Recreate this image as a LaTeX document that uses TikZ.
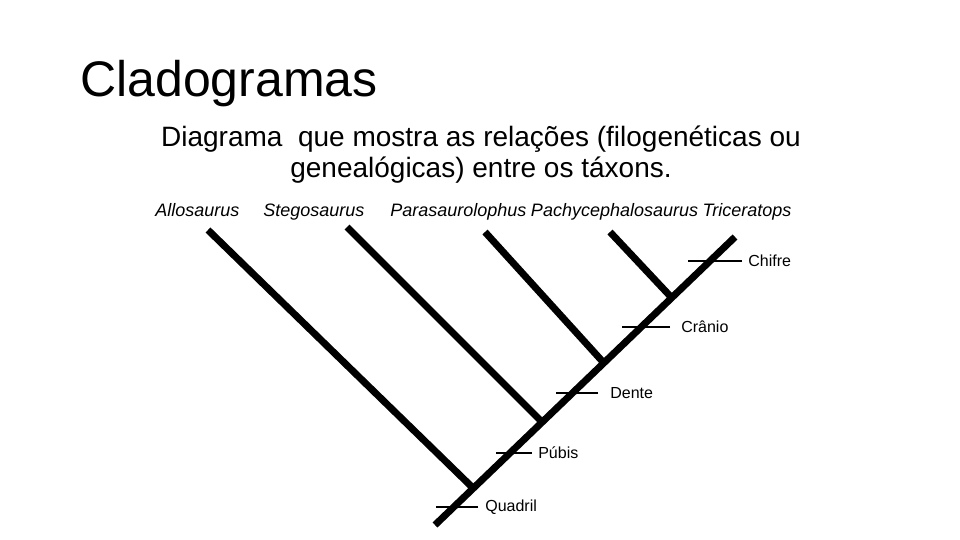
\documentclass[tikz,border=0pt]{standalone}
\usepackage{fontspec}
\setmainfont{Liberation Sans}
\usepackage{tikz}
\usetikzlibrary{positioning,calc}

\begin{document}
\begin{tikzpicture}[x=1pt,y=-1pt,semithick]
		  \tikzstyle{branch}=[line width=7pt]
		  \tikzstyle{tick}=[line width=2pt]
		  \tikzstyle{taxon}=[font=\fontsize{18}{21}\selectfont\itshape,inner sep=0pt]
		  \tikzstyle{trait}=[font=\fontsize{16}{19}\selectfont,anchor=west,inner sep=0pt]
		  \useasboundingbox (0,0) rectangle (960,540);

		  \node[anchor=base west,inner sep=0pt,font=\fontsize{50}{60}\selectfont] (title) at (80,97) {Cladogramas};
		  \node[anchor=north,align=center,inner sep=0pt,font=\fontsize{28}{31}\selectfont] (sub) at (481,126)
		    {Diagrama\ \ que mostra as relações (filogenéticas ou\\genealógicas) entre os táxons.};

		  \node[taxon,anchor=base west] (allo) at (155,216) {Allosaurus};
		  \node[taxon,anchor=base west] (steg) at (263,216) {Stegosaurus};
		  \node[taxon,anchor=base west] (para) at (390,216) {Parasaurolophus};
		  \node[taxon] (pachy) [base right=4pt of para] {Pachycephalosaurus};
		  \node[taxon] (tric) [base right=4pt of pachy] {Triceratops};

		  \coordinate (root) at (435,525);
		  \coordinate (allotip) at (208,230);
		  \coordinate (stegtip) at (347,227);
		  \coordinate (paratip) at (485,232);
		  \coordinate (pachytip) at (610,232);
		  \coordinate (trictip) at (735,237);
		  \coordinate (j1) at (473,488);
		  \coordinate (j2) at (542,422);
		  \coordinate (j3) at (603,362);
		  \coordinate (j4) at (671,297);

		  \draw[branch] (root) -- (trictip);
		  \draw[branch] (allotip) -- (j1);
		  \draw[branch] (stegtip) -- (j2);
		  \draw[branch] (paratip) -- (j3);
		  \draw[branch] (pachytip) -- (j4);

		  % caracteres
		  \node[trait] (quadril) at (485,507) {Quadril};
		  \node[trait] (pubis) at (538,453) {Púbis};
		  \node[trait] (dente) at (610,393) {Dente};
		  \node[trait] (cranio) at (681,327) {Crânio};
		  \node[trait] (chifre) at (748,261) {Chifre};

		  \draw[tick] (quadril.west) ++(-7,0) -- ++(-42,0);
		  \draw[tick] (pubis.west) ++(-6,0) -- ++(-36,0);
		  \draw[tick] (dente.west) ++(-12,0) -- ++(-42,0);
		  \draw[tick] (cranio.west) ++(-11,0) -- ++(-48,0);
		  \draw[tick] (chifre.west) ++(-6,0) -- ++(-54,0);
		\end{tikzpicture}
\end{document}
